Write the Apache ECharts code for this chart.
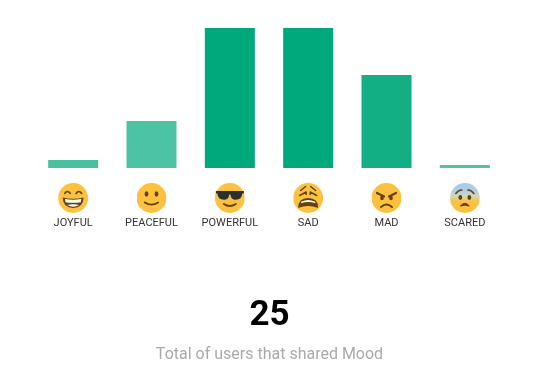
<!DOCTYPE html>
<html>
<head>
<meta charset="utf-8">
<style>
  html, body { margin: 0; padding: 0; background: #fff; }
  #chart { width: 539px; height: 383px; }
</style>
<script src="https://cdn.jsdelivr.net/npm/echarts@6/dist/echarts.min.js"></script>
</head>
<body>
<div id="chart"></div>
<script>
const moods = ["JOYFUL", "PEACEFUL", "POWERFUL", "SAD", "MAD", "SCARED"];
const moodValues = [0.46, 2.69, 8, 8, 5.31, 0.17];
const moodOpacity = [0.72, 0.7, 1, 1, 0.93, 0.7];
const totalUsers = "25";
const totalLabel = "Total of users that shared Mood";

const wrap = (inner, face) => "data:image/svg+xml;charset=utf-8," + encodeURIComponent(
  '<svg xmlns="http://www.w3.org/2000/svg" width="30" height="30" viewBox="0 0 30 30">' +
  (face || '<circle cx="15" cy="15" r="15" fill="#fcc23f"/>') + inner + '</svg>');
const dark = 'fill="none" stroke="#664210" stroke-linecap="round" stroke-linejoin="round"';

const faces = {
  JOYFUL: wrap(
    '<path d="M6.5 10.5q2.8-4 5.6 0M17.9 10.5q2.8-4 5.6 0" ' + dark + ' stroke-width="1.6"/>' +
    '<path d="M4.5 14.5q10.5 2.4 21 0q-.5 10.5-10.5 10.5t-10.5-10.5z" fill="#664210"/>' +
    '<path d="M6.8 16q8.2 1.6 16.4 0l-.5 3.2q-7.7 1.2-15.4 0z" fill="#fff"/>' +
    '<path d="M9 22q6-1.6 12 0q-6 3.4-12 0z" fill="#fff"/>'),
  PEACEFUL: wrap(
    '<ellipse cx="10" cy="11" rx="1.9" ry="2.7" fill="#664210"/>' +
    '<ellipse cx="20" cy="11" rx="1.9" ry="2.7" fill="#664210"/>' +
    '<path d="M8.3 19.5q6.7 4.4 13.4 0" ' + dark + ' stroke-width="1.8"/>'),
  POWERFUL: wrap(
    '<path d="M1 8h28v2.6h-1.6q-.4 6.2-6.4 6.2q-5 0-5.4-5.4h-1.2q-.4 5.4-5.4 5.4q-6 0-6.4-6.2H1z" fill="#292f33"/>' +
    '<path d="M9 21q6 4 12 0" ' + dark + ' stroke-width="1.9"/>'),
  SAD: wrap(
    '<path d="M7.5 7.5l5-4M22.500 7.500l-5-4" ' + dark + ' stroke-width="1.5"/>' +
    '<path d="M6.500 12.500l6.500-3.500v2.500M23.500 12.500l-6.500-3.500v2.500" ' + dark + ' stroke-width="1.5"/>' +
    '<path d="M5 25q0-10 10-10t10 10q-10-3.800-20 0z" fill="#664210"/>' +
    '<path d="M8.500 18.500q6.500-3 13 0l1 1.800q-7.500-2.600-15 0z" fill="#fff"/>'),
  MAD: wrap(
    '<path d="M5.500 10l7 3.500M24.500 10l-7 3.500" ' + dark + ' stroke-width="2.2"/>' +
    '<ellipse cx="10.500" cy="15" rx="1.800" ry="2.200" fill="#664210"/>' +
    '<ellipse cx="19.500" cy="15" rx="1.800" ry="2.200" fill="#664210"/>' +
    '<path d="M9.500 24q5.500-5 11 0" ' + dark + ' stroke-width="2"/>'),
  SCARED: wrap(
    '<path d="M6 10.500q2.500-3.500 6-3.500M24 10.500q-2.500-3.500-6-3.500" ' + dark + ' stroke-width="1.600"/>' +
    '<ellipse cx="10.500" cy="14.500" rx="1.900" ry="2.400" fill="#664210"/>' +
    '<ellipse cx="19.500" cy="14.500" rx="1.900" ry="2.400" fill="#664210"/>' +
    '<path d="M10.500 23q4.500-5.500 9 0q-4.500-1.500-9 0z" fill="#664210" stroke="#664210" stroke-linejoin="round"/>',
    '<defs><linearGradient id="g" x1="0" y1="0" x2="0" y2="1">' +
    '<stop offset="0.2" stop-color="#a9cde8"/><stop offset="0.42" stop-color="#cfd6c4"/><stop offset="0.62" stop-color="#fcc23f"/></linearGradient></defs>' +
    '<circle cx="15" cy="15" r="15" fill="url(#g)"/>')
};

const richFaces = {};
moods.forEach(m => {
  richFaces[m] = { width: 30, height: 30, align: "center", backgroundColor: { image: faces[m] } };
});

const mychart = echarts.init(document.getElementById("chart"));
mychart.setOption({
  animation: false,
  backgroundColor: "#fff",
  title: [
    {
      text: totalUsers,
      left: "center",
      top: 294,
      textStyle: { fontFamily: "Roboto", fontSize: 35, fontWeight: "bold", color: "#000" }
    },
    {
      text: totalLabel,
      left: "center",
      top: 342,
      textStyle: { fontFamily: "Roboto", fontSize: 16, fontWeight: "normal", color: "#aaa" }
    }
  ],
  grid: { left: 34, right: 35, top: 28, height: 140 },
  xAxis: {
    type: "category",
    data: moods,
    axisLine: { show: false },
    axisTick: { show: false },
    axisLabel: {
      margin: 15,
      interval: 0,
      formatter: v => "{" + v + "| }\n{name|" + v + "}",
      rich: Object.assign({
        name: { fontFamily: "Roboto", fontSize: 11, color: "#333", height: 20, lineHeight: 20, align: "center" }
      }, richFaces)
    }
  },
  yAxis: { type: "value", min: 0, max: 8, show: false },
  series: [
    {
      type: "bar",
      barWidth: 50,
      data: moodValues.map((v, i) => ({
        value: v,
        itemStyle: { color: "#00a97b", opacity: moodOpacity[i] }
      }))
    }
  ]
});
</script>
</body>
</html>
